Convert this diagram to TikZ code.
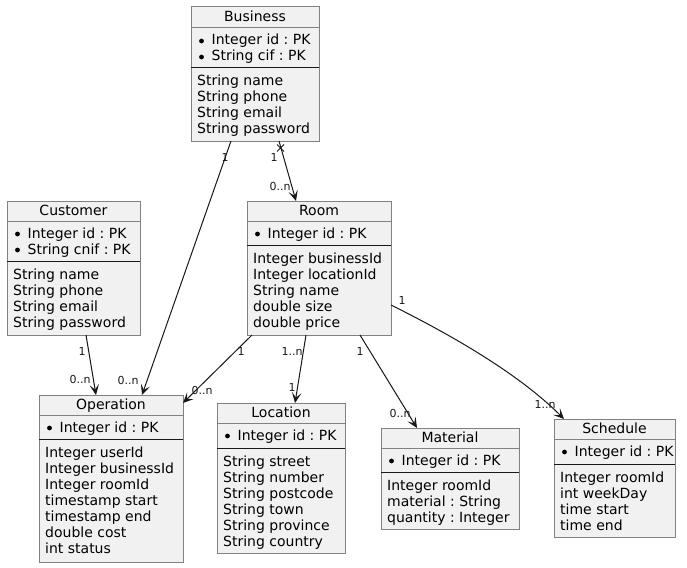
\documentclass[tikz,border=0pt]{standalone}
\usepackage{fontspec}
\setmainfont{DejaVu Sans}
\frenchspacing
\usetikzlibrary{arrows.meta}
\definecolor{boxfill}{HTML}{F1F1F1}
\definecolor{boxline}{HTML}{818181}
\definecolor{ink}{HTML}{181818}
\newcounter{tn}
\tikzset{
  classbox/.style={draw=boxline, fill=boxfill, line width=1pt, inner sep=0pt, outer sep=0pt, anchor=north west},
  titletext/.style={anchor=base, inner sep=0pt, font=\fontsize{14}{16}\selectfont},
  attrtext/.style={anchor=base west, inner sep=0pt, font=\fontsize{14}{16}\selectfont},
  mult/.style={inner sep=0pt, font=\fontsize{11}{13}\selectfont, text=ink},
  rel/.style={draw=ink, line width=1pt, -{Stealth[length=10.5pt,width=9.5pt,inset=5pt]}},
}
% name, L, T, R, B, sep1, sep2, title
\newcommand\umlbox[8]{%
  \pgfmathsetmacro\bw{#4-#2}\pgfmathsetmacro\bh{#5-#3}%
  \node[classbox, minimum width=\bw pt, minimum height=\bh pt] (#1) at (#2,#3) {};
  \draw[boxline, line width=1pt] (#2,#6) -- (#4,#6);
  \draw[ink, line width=0.9pt] (#2,#7) -- (#4,#7);
  \pgfmathsetmacro\cx{(#2+#4)/2}\pgfmathsetmacro\tb{#3+14.5}%
  \node[titletext] (#1-title) at (\cx,\tb) {#8};
}
% L, baseline, text
\newcommand\keyline[3]{%
  \stepcounter{tn}%
  \fill[black] (#1+10.5,#2-3.5) circle (2.4pt);
  \node[attrtext] (k\arabic{tn}) at (#1+20.5,#2+0.5) {#3};
}
\newcommand\attrline[3]{%
  \stepcounter{tn}%
  \node[attrtext] (a\arabic{tn}) at (#1+6,#2+0.5) {#3};
}
\newcommand\multlabel[3]{%
  \stepcounter{tn}%
  \node[mult] (m\arabic{tn}) at (#1,#2) {#3};
}
\begin{document}
\begin{tikzpicture}[x=1pt,y=-1pt]
\fill[white] (0,0) rectangle (687,567);
\useasboundingbox (0,0) rectangle (687,567);

% Business
\umlbox{business}{191}{7}{319}{141}{28}{67.5}{Business}
\keyline{191}{44.5}{Integer id : PK}
\keyline{191}{60.5}{String cif : PK}
\attrline{191}{85}{String name}
\attrline{191}{101}{String phone}
\attrline{191}{117}{String email}
\attrline{191}{133}{String password}

% Customer
\umlbox{customer}{7}{201}{140}{335}{221}{261.5}{Customer}
\keyline{7}{237.5}{Integer id : PK}
\keyline{7}{253.5}{String cnif : PK}
\attrline{7}{279}{String name}
\attrline{7}{295}{String phone}
\attrline{7}{311}{String email}
\attrline{7}{327}{String password}

% Room
\umlbox{room}{247}{201}{391}{335}{221}{245.5}{Room}
\keyline{247}{237.5}{Integer id : PK}
\attrline{247}{263}{Integer businessId}
\attrline{247}{279}{Integer locationId}
\attrline{247}{295}{String name}
\attrline{247}{311}{double size}
\attrline{247}{327}{double price}

% Operation
\umlbox{operation}{39}{395}{183}{562}{415}{439.5}{Operation}
\keyline{39}{431.5}{Integer id : PK}
\attrline{39}{457}{Integer userId}
\attrline{39}{473}{Integer businessId}
\attrline{39}{489}{Integer roomId}
\attrline{39}{505}{timestamp start}
\attrline{39}{521}{timestamp end}
\attrline{39}{537}{double cost}
\attrline{39}{553}{int status}

% Location
\umlbox{location}{217}{403}{345}{553.5}{423}{448}{Location}
\keyline{217}{439.5}{Integer id : PK}
\attrline{217}{465.5}{String street}
\attrline{217}{481.5}{String number}
\attrline{217}{497.5}{String postcode}
\attrline{217}{513.5}{String town}
\attrline{217}{529.5}{String province}
\attrline{217}{545.5}{String country}

% Material
\umlbox{material}{381}{428}{519}{529.5}{448}{472}{Material}
\keyline{381}{464.5}{Integer id : PK}
\attrline{381}{489.5}{Integer roomId}
\attrline{381}{505.5}{material : String}
\attrline{381}{521.5}{quantity : Integer}

% Schedule
\umlbox{schedule}{554}{419}{675}{537}{439}{464}{Schedule}
\keyline{554}{455.5}{Integer id : PK}
\attrline{554}{481.5}{Integer roomId}
\attrline{554}{497.5}{int weekDay}
\attrline{554}{513.5}{time start}
\attrline{554}{529.5}{time end}

% connector end points
\coordinate (bzA) at (231,141);
\coordinate (opA) at (142,395);
\coordinate (bzB) at (279,141);
\coordinate (rmB) at (296,201);
\coordinate (cuC) at (86,335);
\coordinate (opC) at (96,395);
\coordinate (rmD) at (252,335);
\coordinate (opD) at (183,403);
\coordinate (rmE) at (306,335);
\coordinate (loE) at (295,403);
\coordinate (rmF) at (360,335);
\coordinate (maF) at (417,428);
\coordinate (rmG) at (391,305);
\coordinate (scG) at (564,419);
\coordinate (crossc) at (280.5,148);

\draw[rel] (bzA) -- (opA);
\draw[rel] (bzB) -- (rmB);
\draw[ink, line width=0.9pt] ([shift={(-3.5,-3.5)}]crossc) -- ([shift={(3.5,3.5)}]crossc)
                              ([shift={(-3.5,3.5)}]crossc) -- ([shift={(3.5,-3.5)}]crossc);
\draw[rel] (cuC) -- (opC);
\draw[rel] (rmD) -- (opD);
\draw[rel] (rmE) -- (loE);
\draw[rel] (rmF) -- (maF);
\draw[rel] (rmG) .. controls (431,325) and (512,367) .. (scG);

% multiplicities
\multlabel{225}{157}{1}
\multlabel{128}{380}{0..n}
\multlabel{274}{157}{1}
\multlabel{280}{186}{0..n}
\multlabel{82}{351}{1}
\multlabel{80}{379}{0..n}
\multlabel{241}{351}{1}
\multlabel{202}{390}{0..n}
\multlabel{292}{351}{1..n}
\multlabel{292}{387}{1}
\multlabel{360}{351}{1}
\multlabel{400}{413}{0..n}
\multlabel{402}{300}{1}
\multlabel{545}{404}{1..n}
\end{tikzpicture}
\end{document}
